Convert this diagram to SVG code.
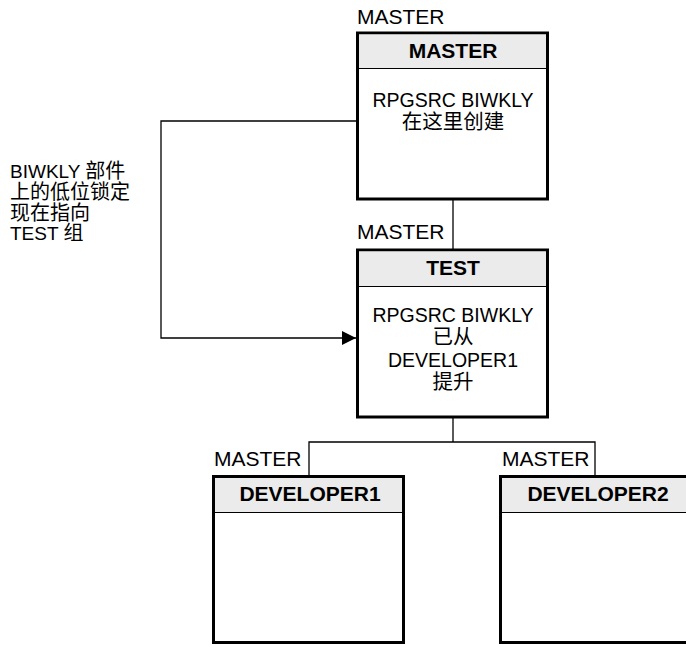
<svg xmlns="http://www.w3.org/2000/svg" width="686" height="645" viewBox="0 0 686 645">
<defs>
<style>
.box{fill:#ffffff;stroke:#000000;stroke-width:3}
.hdr{fill:#ebebeb;stroke:none}
.div{stroke:#000000;stroke-width:1;fill:none}
.conn{stroke:#000000;stroke-width:1.3;fill:none}
text{font-family:"Liberation Sans","Noto Sans CJK SC",sans-serif;font-size:19.5px;fill:#000000}
.lbl{font-size:21px}
.b{font-weight:bold;text-anchor:middle;font-size:21px}
.c{text-anchor:middle}
.cjk{font-size:20.5px}
.n{font-size:19px}
.nc{font-size:20px}
</style>
<marker id="arr" viewBox="0 0 14 14" refX="14" refY="7" markerWidth="14" markerHeight="14" markerUnits="userSpaceOnUse" orient="auto">
<path d="M0,0 L14,7 L0,14 Z" fill="#000000"/>
</marker>
</defs>
<rect width="686" height="645" fill="#ffffff"/>
<g id="connectors">
<line class="conn" x1="453" y1="200" x2="453" y2="249"/>
<polyline class="conn" points="453,418 453,442"/>
<polyline class="conn" points="309,475 309,442 595,442 595,475"/>
<polyline class="conn" points="356,121 161,121 161,338 356,338" marker-end="url(#arr)"/>
</g>
<g id="note">
<text class="n" x="10" y="178">BIWKLY <tspan class="nc">部件</tspan></text>
<text class="nc" x="10" y="199">上的低位锁定</text>
<text class="nc" x="10" y="219.5">现在指向</text>
<text class="n" x="10" y="240">TEST <tspan class="nc">组</tspan></text>
</g>
<g id="master">
<text class="lbl" x="357" y="24">MASTER</text>
<rect class="box" x="357.5" y="33" width="190" height="166"/>
<rect class="hdr" x="359" y="34.5" width="187" height="33.5"/>
<line class="div" x1="359" y1="68.5" x2="546" y2="68.5"/>
<text class="b" x="453" y="58">MASTER</text>
<text class="c" x="453" y="107">RPGSRC BIWKLY</text>
<text class="c cjk" x="453" y="129">在这里创建</text>
</g>
<g id="test">
<text class="lbl" x="357" y="239">MASTER</text>
<rect class="box" x="357.5" y="250" width="190" height="167"/>
<rect class="hdr" x="359" y="251.5" width="187" height="34.5"/>
<line class="div" x1="359" y1="286.5" x2="546" y2="286.5"/>
<text class="b" x="453" y="275">TEST</text>
<text class="c" x="453" y="322">RPGSRC BIWKLY</text>
<text class="c cjk" x="453" y="344">已从</text>
<text class="c" x="453" y="367">DEVELOPER1</text>
<text class="c cjk" x="453" y="389">提升</text>
</g>
<g id="developer1">
<text class="lbl" x="214" y="466">MASTER</text>
<rect class="box" x="213.5" y="476.5" width="190" height="166"/>
<rect class="hdr" x="215" y="478" width="187" height="34"/>
<line class="div" x1="215" y1="512.5" x2="402" y2="512.5"/>
<text class="b" x="310" y="501">DEVELOPER1</text>
</g>
<g id="developer2">
<text class="lbl" x="502" y="466">MASTER</text>
<rect class="box" x="500.5" y="476.5" width="190" height="166"/>
<rect class="hdr" x="502" y="478" width="187" height="34"/>
<line class="div" x1="502" y1="512.5" x2="689" y2="512.5"/>
<text class="b" x="598" y="501">DEVELOPER2</text>
</g>
</svg>
